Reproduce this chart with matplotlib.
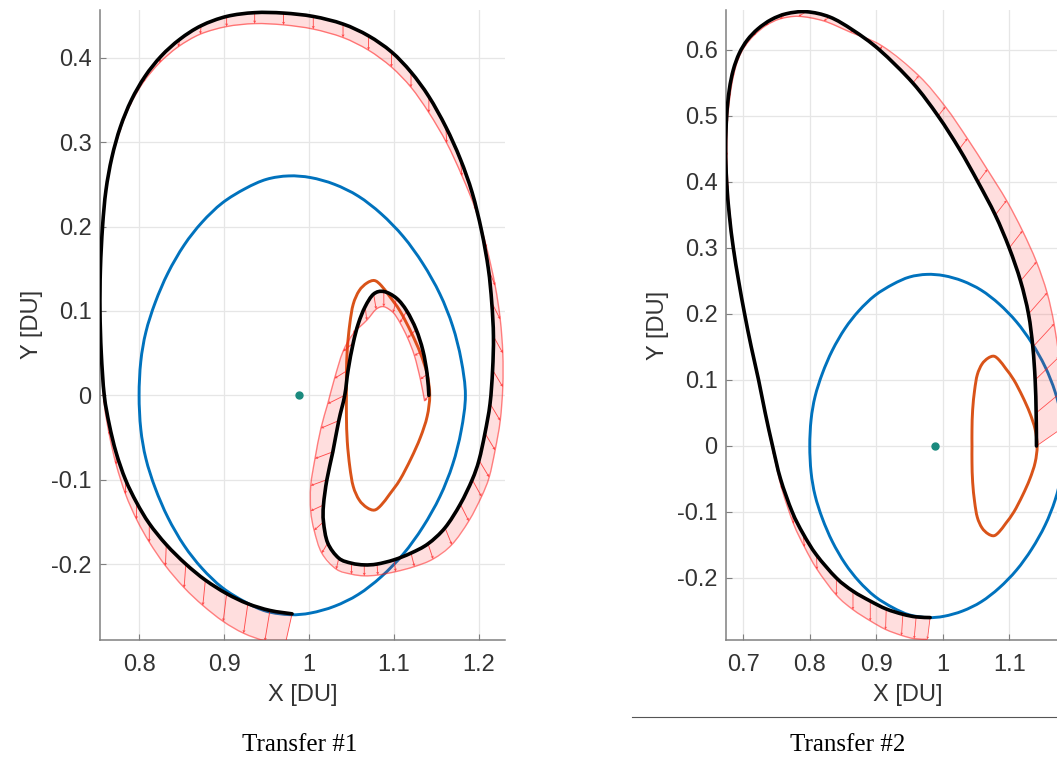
import matplotlib
matplotlib.use("Agg")
import matplotlib.pyplot as plt
from matplotlib.lines import Line2D
from matplotlib.path import Path
from matplotlib.patches import PathPatch, Polygon

# ---------------- data ----------------
# Periodic orbit (blue), closed curve
blue_x = [0.800, 0.802, 0.808, 0.819, 0.834, 0.853, 0.874, 0.898, 0.925, 0.950, 0.976,
          1.002, 1.030, 1.058, 1.085, 1.111, 1.134, 1.154, 1.169, 1.179, 1.184,
          1.179, 1.169, 1.154, 1.134, 1.111, 1.085, 1.058, 1.030, 1.002, 0.978,
          0.950, 0.925, 0.898, 0.874, 0.853, 0.834, 0.819, 0.808, 0.802]
blue_y = [0.000, 0.040, 0.075, 0.110, 0.145, 0.178, 0.205, 0.228, 0.245, 0.256, 0.260,
          0.258, 0.250, 0.236, 0.215, 0.188, 0.156, 0.120, 0.082, 0.042, 0.000,
          -0.042, -0.082, -0.120, -0.156, -0.188, -0.215, -0.236, -0.250, -0.258, -0.260,
          -0.256, -0.245, -0.228, -0.205, -0.178, -0.145, -0.110, -0.075, -0.040]

# Small periodic orbit (orange), closed curve
orange_x = [1.142, 1.139, 1.131, 1.120, 1.107, 1.095, 1.085, 1.077, 1.068, 1.059, 1.052,
            1.048, 1.045, 1.044, 1.044, 1.044, 1.045, 1.048, 1.052, 1.059, 1.068, 1.077,
            1.085, 1.095, 1.107, 1.120, 1.131, 1.139]
orange_y = [0.000, 0.025, 0.050, 0.075, 0.100, 0.117, 0.130, 0.136, 0.133, 0.124, 0.108,
            0.085, 0.055, 0.025, 0.000, -0.025, -0.055, -0.085, -0.108, -0.124, -0.133, -0.136,
            -0.130, -0.117, -0.100, -0.075, -0.050, -0.025]

# Moon position
moon_x = [0.988]
moon_y = [0.0]

# Transfer #1 trajectory and thrust arrows
t1_x = [1.141, 1.139, 1.134, 1.126, 1.115, 1.103, 1.088, 1.076, 1.066, 1.058, 1.052, 1.046,
        1.042, 1.035, 1.028, 1.021, 1.017, 1.017, 1.022, 1.035, 1.050, 1.065, 1.080, 1.100,
        1.120, 1.140, 1.160, 1.178, 1.192, 1.200, 1.207, 1.213, 1.216, 1.217, 1.215, 1.211,
        1.203, 1.192, 1.178, 1.161, 1.141, 1.120, 1.097, 1.070, 1.040, 1.005, 0.970, 0.936,
        0.903, 0.873, 0.848, 0.826, 0.807, 0.791, 0.778, 0.768, 0.761, 0.757, 0.7545, 0.754,
        0.7555, 0.759, 0.765, 0.773, 0.784, 0.797, 0.812, 0.832, 0.855, 0.878, 0.903, 0.928,
        0.954, 0.980]
t1_y = [0.000, 0.025, 0.053, 0.078, 0.100, 0.115, 0.123, 0.120, 0.105, 0.085, 0.062, 0.030,
        0.000, -0.030, -0.067, -0.100, -0.130, -0.150, -0.175, -0.193, -0.199, -0.201, -0.200, -0.195,
        -0.187, -0.176, -0.157, -0.129, -0.100, -0.077, -0.045, -0.010, 0.030, 0.070, 0.110, 0.150,
        0.195, 0.240, 0.280, 0.318, 0.354, 0.383, 0.407, 0.426, 0.440, 0.449, 0.453, 0.4535,
        0.449, 0.438, 0.422, 0.402, 0.378, 0.350, 0.318, 0.282, 0.243, 0.200, 0.150, 0.100,
        0.050, 0.000, -0.035, -0.068, -0.100, -0.127, -0.152, -0.177, -0.200, -0.219, -0.235, -0.247,
        -0.255, -0.259]
t1_u = [-0.005, -0.008, -0.010, -0.010, -0.008, -0.004, 0.000, 0.003, 0.002, -0.006, -0.012, -0.016,
        -0.020, -0.021, -0.021, -0.019, -0.015, -0.011, -0.007, -0.003, 0.000, 0.000, 0.001, 0.002,
        0.004, 0.006, 0.008, 0.010, 0.011, 0.012, 0.012, 0.012, 0.012, 0.011, 0.010, 0.008,
        0.006, 0.004, 0.002, 0.001, 0.000, 0.000, 0.000, 0.000, 0.000, 0.000, 0.000, 0.000,
        0.000, -0.001, -0.002, -0.002, -0.002, -0.002, -0.001, -0.001, -0.001, 0.000, 0.000, 0.000,
        0.000, 0.000, 0.000, 0.000, 0.000, 0.000, 0.000, -0.001, -0.002, -0.003, -0.004, -0.005,
        -0.006, -0.008]
t1_v = [-0.007, -0.006, -0.006, -0.010, -0.014, -0.017, -0.018, -0.018, -0.016, -0.012, -0.010, -0.010,
        -0.010, -0.009, -0.008, -0.007, -0.007, -0.010, -0.012, -0.013, -0.013, -0.013, -0.013, -0.014,
        -0.016, -0.018, -0.020, -0.020, -0.020, -0.020, -0.020, -0.020, -0.020, -0.020, -0.020, -0.020,
        -0.020, -0.020, -0.020, -0.019, -0.019, -0.018, -0.018, -0.017, -0.016, -0.015, -0.014, -0.013,
        -0.012, -0.010, -0.009, -0.008, -0.007, -0.007, -0.006, -0.006, -0.006, -0.006, -0.006, -0.007,
        -0.008, -0.010, -0.012, -0.014, -0.017, -0.020, -0.022, -0.025, -0.028, -0.030, -0.033, -0.035,
        -0.036, -0.036]

# Transfer #2 trajectory and thrust arrows
t2_x = [1.141, 1.1405, 1.139, 1.1355, 1.129, 1.117, 1.100, 1.079, 1.053, 1.025, 0.993, 0.955,
        0.905, 0.865, 0.830, 0.795, 0.765, 0.742, 0.722, 0.706, 0.694, 0.685, 0.679, 0.675,
        0.6735, 0.675, 0.679, 0.685, 0.693, 0.702, 0.712, 0.723, 0.733, 0.744, 0.756, 0.7736,
        0.790, 0.810, 0.840, 0.865, 0.891, 0.915, 0.940, 0.960, 0.981]
t2_y = [0.000, 0.050, 0.100, 0.150, 0.200, 0.250, 0.300, 0.350, 0.400, 0.450, 0.500, 0.550,
        0.600, 0.630, 0.650, 0.658, 0.655, 0.646, 0.632, 0.615, 0.595, 0.570, 0.540, 0.500,
        0.450, 0.400, 0.350, 0.300, 0.250, 0.200, 0.150, 0.100, 0.050, 0.000, -0.050, -0.100,
        -0.133, -0.165, -0.200, -0.220, -0.235, -0.247, -0.255, -0.259, -0.260]
t2_u = [0.050, 0.042, 0.036, 0.032, 0.028, 0.024, 0.020, 0.017, 0.014, 0.012, 0.011, 0.009,
        0.004, -0.004, -0.009, -0.012, -0.010, -0.008, -0.006, -0.004, -0.002, 0.000, 0.001, 0.001,
        0.002, 0.002, 0.002, 0.002, 0.002, 0.002, 0.002, 0.002, 0.002, 0.002, 0.002, 0.002,
        0.002, 0.001, 0.000, 0.000, 0.000, -0.001, -0.002, -0.003, -0.004]
t2_v = [0.035, 0.035, 0.035, 0.035, 0.032, 0.029, 0.026, 0.022, 0.019, 0.016, 0.014, 0.011,
        0.006, -0.003, -0.006, -0.007, -0.008, -0.009, -0.010, -0.010, -0.010, -0.010, -0.010, -0.010,
        -0.010, -0.010, -0.010, -0.010, -0.011, -0.011, -0.012, -0.012, -0.013, -0.014, -0.015, -0.018,
        -0.020, -0.022, -0.026, -0.028, -0.030, -0.031, -0.032, -0.033, -0.033]

xticks1 = [0.8, 0.9, 1.0, 1.1, 1.2]
xticklabels1 = ["0.8", "0.9", "1", "1.1", "1.2"]
yticks1 = [-0.2, -0.1, 0.0, 0.1, 0.2, 0.3, 0.4]
yticklabels1 = ["-0.2", "-0.1", "0", "0.1", "0.2", "0.3", "0.4"]
xticks2 = [0.7, 0.8, 0.9, 1.0, 1.1]
xticklabels2 = ["0.7", "0.8", "0.9", "1", "1.1"]
yticks2 = [-0.2, -0.1, 0.0, 0.1, 0.2, 0.3, 0.4, 0.5, 0.6]
yticklabels2 = ["-0.2", "-0.1", "0", "0.1", "0.2", "0.3", "0.4", "0.5", "0.6"]
captions = ["Transfer #1", "Transfer #2"]
xlabel = "X [DU]"
ylabel = "Y [DU]"

# ---------------- styling ----------------
plt.rcParams['font.family'] = ['Liberation Sans', 'DejaVu Sans']
BLUE = "#0072BD"
ORANGE = "#D95319"
TEAL = "#1A8A7E"
TXT = "#333333"
SPINE = "#808080"
FS = 17

fig = plt.figure(figsize=(10.57, 7.61), dpi=100)
W, H = 1057.0, 761.0


def px_axes(left, right, top, bottom):
    return [left / W, (H - bottom) / H, (right - left) / W, (bottom - top) / H]


def smooth_path(xs, ys, closed=False):
    """Catmull-Rom curve through the given points, rendered as cubic Bezier segments."""
    pts = list(zip(xs, ys))
    n = len(pts)
    if closed:
        get = lambda i: pts[i % n]
        nseg = n
    else:
        get = lambda i: pts[min(max(i, 0), n - 1)]
        nseg = n - 1
    verts = [pts[0]]
    codes = [Path.MOVETO]
    for i in range(nseg):
        p0, p1, p2, p3 = get(i - 1), get(i), get(i + 1), get(i + 2)
        c1 = (p1[0] + (p2[0] - p0[0]) / 6.0, p1[1] + (p2[1] - p0[1]) / 6.0)
        c2 = (p2[0] - (p3[0] - p1[0]) / 6.0, p2[1] - (p3[1] - p1[1]) / 6.0)
        verts += [c1, c2, p2]
        codes += [Path.CURVE4] * 3
    return Path(verts, codes)


ax1 = fig.add_axes(px_axes(100, 505, 9.7, 640))
ax2 = fig.add_axes(px_axes(726, 1089, 10.4, 640))

panels = [
    (ax1, t1_x, t1_y, t1_u, t1_v, (0.754, 1.2306), (-0.290, 0.457),
     xticks1, xticklabels1, yticks1, yticklabels1),
    (ax2, t2_x, t2_y, t2_u, t2_v, (0.674, 1.220), (-0.294, 0.660),
     xticks2, xticklabels2, yticks2, yticklabels2),
]

for ax, tx, ty, tu, tv, xl, yl, xt, xtl, yt, ytl in panels:
    ax.add_patch(PathPatch(smooth_path(blue_x, blue_y, closed=True), fill=False,
                           ec=BLUE, lw=2.1, zorder=3))
    ax.add_patch(PathPatch(smooth_path(orange_x, orange_y, closed=True), fill=False,
                           ec=ORANGE, lw=2.1, zorder=3))
    # thrust band: trajectory points joined to the arrow tips
    tips_x = [x + u for x, u in zip(tx, tu)]
    tips_y = [y + v for y, v in zip(ty, tv)]
    band = list(zip(tx, ty)) + list(zip(tips_x, tips_y))[::-1]
    ax.add_patch(Polygon(band, closed=True, fc=(1.0, 0.2, 0.2, 0.16), ec='none', zorder=3.5))
    ax.add_patch(PathPatch(smooth_path(tips_x, tips_y), fill=False,
                           ec=(1.0, 0.1, 0.1, 0.55), lw=1.0, zorder=4))
    ax.quiver(tx, ty, tu, tv, angles='xy', scale_units='xy', scale=1,
              color=(1.0, 0.1, 0.1, 0.75), width=0.0022, headwidth=3.5,
              headlength=3.5, headaxislength=3.0, zorder=4)
    ax.add_patch(PathPatch(smooth_path(tx, ty), fill=False, ec='black', lw=2.6,
                           zorder=5, capstyle='round'))
    ax.plot(moon_x, moon_y, 'o', color=TEAL, ms=5, zorder=6)
    ax.set_xlim(*xl)
    ax.set_ylim(*yl)
    ax.set_xticks(xt)
    ax.set_xticklabels(xtl)
    ax.set_yticks(yt)
    ax.set_yticklabels(ytl)
    ax.grid(True, color='#e6e6e6', lw=0.9, zorder=0)
    ax.set_axisbelow(True)
    for s in ['top', 'right']:
        ax.spines[s].set_visible(False)
    for s in ['left', 'bottom']:
        ax.spines[s].set_color(SPINE)
        ax.spines[s].set_linewidth(1.1)
    ax.tick_params(direction='in', length=4, width=0.8, color=SPINE,
                   labelcolor=TXT, labelsize=FS)
    ax.tick_params(axis='x', pad=10)
    ax.tick_params(axis='y', pad=6)
    ax.set_xlabel(xlabel, fontsize=FS, color=TXT, labelpad=6)
    ax.set_ylabel(ylabel, fontsize=FS, color=TXT, labelpad=6)

# captions
fig.text(300 / W, 1 - 745 / H, captions[0], ha='center', va='center',
         family=['Liberation Serif'], fontsize=18, color='black')
fig.text(848 / W, 1 - 745 / H, captions[1], ha='center', va='center',
         family=['Liberation Serif'], fontsize=18, color='black')
fig.add_artist(Line2D([632 / W, 1.0], [1 - 717 / H, 1 - 717 / H],
                      transform=fig.transFigure, color='#555555', lw=0.8))

fig.savefig("out.png", dpi=100)
